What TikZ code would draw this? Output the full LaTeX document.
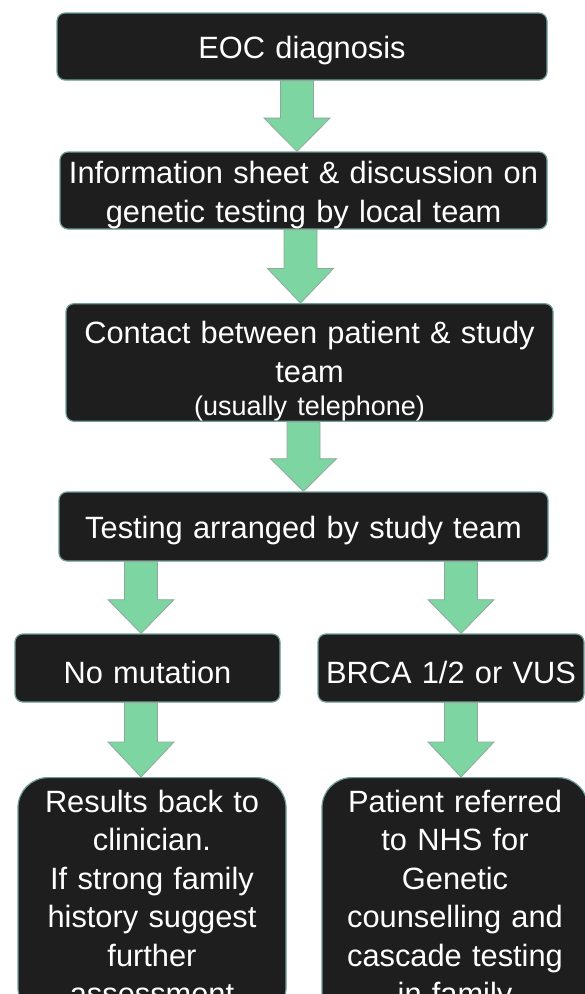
\documentclass[tikz,border=0pt]{standalone}
\usepackage{fontspec}
\setmainfont{Liberation Sans}
\usetikzlibrary{calc}

\definecolor{boxfill}{HTML}{1E1E1E}
\definecolor{boxline}{HTML}{6F9C96}
\definecolor{arrowgreen}{HTML}{7DD5A2}
\definecolor{arrowline}{HTML}{8FA89B}

% pushes a box's text a little down
\newcommand{\lowstrut}[1][31pt]{\rule{0pt}{#1}}

\tikzset{
  stage/.style={draw=boxline, line width=1.2pt, fill=boxfill, text=white,
    rounded corners=8pt, inner sep=0pt, align=center,
    font=\fontsize{30.8}{38.5}\selectfont},
  outcome/.style={stage, rounded corners=30pt, anchor=north, inner ysep=12.5pt},
  fatarrow/.style={fill=arrowgreen, draw=arrowline, line width=0.8pt,
    to path={let \p1=(\tikztostart), \p2=(\tikztotarget),
      \p3=($(\tikztostart)!0.53!(\tikztotarget)$) in
      (\x1-16.5pt,\y1) -- (\x1+16.5pt,\y1) -- (\x1+16.5pt,\y3)
      -- (\x1+33pt,\y3) -- (\x2,\y2) -- (\x1-33pt,\y3)
      -- (\x1-16.5pt,\y3) -- cycle}}
}

\begin{document}
\begin{tikzpicture}[x=1pt,y=-1pt]
    \useasboundingbox (0,0) rectangle (585,994);
    \clip (0,0) rectangle (585,994);

    \node[stage, text width=490pt, minimum height=67pt] (diag) at (302,46.5)
        {\lowstrut EOC diagnosis};
    \node[stage, text width=487pt, minimum height=77pt] (info) at (303.5,190.5)
        {\lowstrut Information sheet \& discussion on\\genetic testing by local team};
    \node[stage, text width=487pt, minimum height=115pt] (contact) at (309.5,362.5)
        {\lowstrut[40pt]Contact between patient \& study\\team\\[-5pt]
         {\fontsize{27}{30}\selectfont (usually telephone)}};
    \node[stage, text width=489pt, minimum height=69pt] (testing) at (303.5,526.5)
        {\lowstrut Testing arranged by study team};

    \node[stage, text width=265pt, minimum height=68pt] (nomut) at (147.5,668)
        {\lowstrut No mutation};
    \node[stage, text width=266pt, minimum height=68pt] (brca) at (451,668)
        {\lowstrut BRCA 1/2 or VUS};

    \node[outcome, text width=268pt] (results) at (152,777)
        {Results back to\\clinician.\\If strong family\\history suggest\\further\\assessment};
    \node[outcome, text width=266pt] (referred) at (455,777)
        {Patient referred\\to NHS for\\Genetic\\counselling and\\cascade testing\\in family};

    % columns of the branch arrows
    \coordinate (leftcol) at (141,0);
    \coordinate (rightcol) at (461,0);

    \draw[fatarrow] ([xshift=-5pt]diag.south) to ([xshift=-5pt]diag.south |- info.north);
    \draw[fatarrow] ([xshift=-3pt]info.south) to ([xshift=-3pt]info.south |- contact.north);
    \draw[fatarrow] ([xshift=-6pt]contact.south) to ([xshift=-6pt]contact.south |- testing.north);

    \draw[fatarrow] (testing.south -| leftcol) to (nomut.north -| leftcol);
    \draw[fatarrow] (testing.south -| rightcol) to (brca.north -| rightcol);
    \draw[fatarrow] (nomut.south -| leftcol) to (results.north -| leftcol);
    \draw[fatarrow] (brca.south -| rightcol) to (referred.north -| rightcol);
\end{tikzpicture}
\end{document}
